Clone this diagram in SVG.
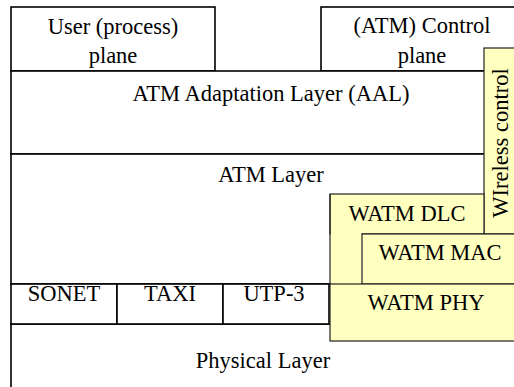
<svg xmlns="http://www.w3.org/2000/svg" width="514" height="387" viewBox="0 0 514 387">
<style>
.b{fill:#fff;stroke:#000;stroke-width:1.6}
.y{fill:#ffffc0;stroke:#222;stroke-width:1.2}
</style>
<rect width="514" height="387" fill="#fff"/>
<g font-family="Times New Roman, Liberation Serif, DejaVu Serif, serif" font-size="22.5" text-anchor="middle" fill="#000">
<g id="user-plane"><rect class="b" x="11" y="7" width="204" height="64"/><text x="113" y="34">User (process)</text><text x="113" y="63">plane</text></g>
<g id="control-plane"><rect class="b" x="321" y="7" width="210" height="64"/><text x="422" y="33">(ATM) Control</text><text x="422" y="63">plane</text></g>
<g id="aal"><rect class="b" x="11" y="71" width="520" height="83"/><text x="271" y="101">ATM Adaptation Layer (AAL)</text></g>
<g id="atm-layer"><rect class="b" x="11" y="154" width="520" height="130"/><text x="271" y="182">ATM Layer</text></g>
<g id="physical"><rect class="b" x="11" y="324" width="520" height="80"/><text x="263" y="368">Physical Layer</text></g>
<g id="sonet"><rect class="b" x="11" y="284" width="106" height="40"/><text x="64" y="301">SONET</text></g>
<g id="taxi"><rect class="b" x="117" y="284" width="106" height="40"/><text x="170" y="301">TAXI</text></g>
<g id="utp3"><rect class="b" x="223" y="284" width="106" height="40"/><text x="274" y="301">UTP-3</text></g>
<g id="wireless-control"><rect class="y" x="484" y="48" width="50" height="186"/><text transform="translate(508,143) rotate(-90)">WIreless control</text></g>
<g id="watm-dlc"><rect class="y" x="330" y="194" width="154" height="40"/><rect x="330.6" y="233" width="31" height="51" fill="#ffffc0"/><line x1="330" y1="194" x2="330" y2="284" stroke="#222" stroke-width="1.2"/><text x="407" y="221">WATM DLC</text></g>
<g id="watm-mac"><rect class="y" x="362" y="234" width="170" height="50"/><text x="440" y="260">WATM MAC</text></g>
<g id="watm-phy"><rect class="y" x="330" y="284" width="202" height="57"/><text x="426" y="310">WATM PHY</text></g>
</g>
<g id="connectors"></g>
</svg>
